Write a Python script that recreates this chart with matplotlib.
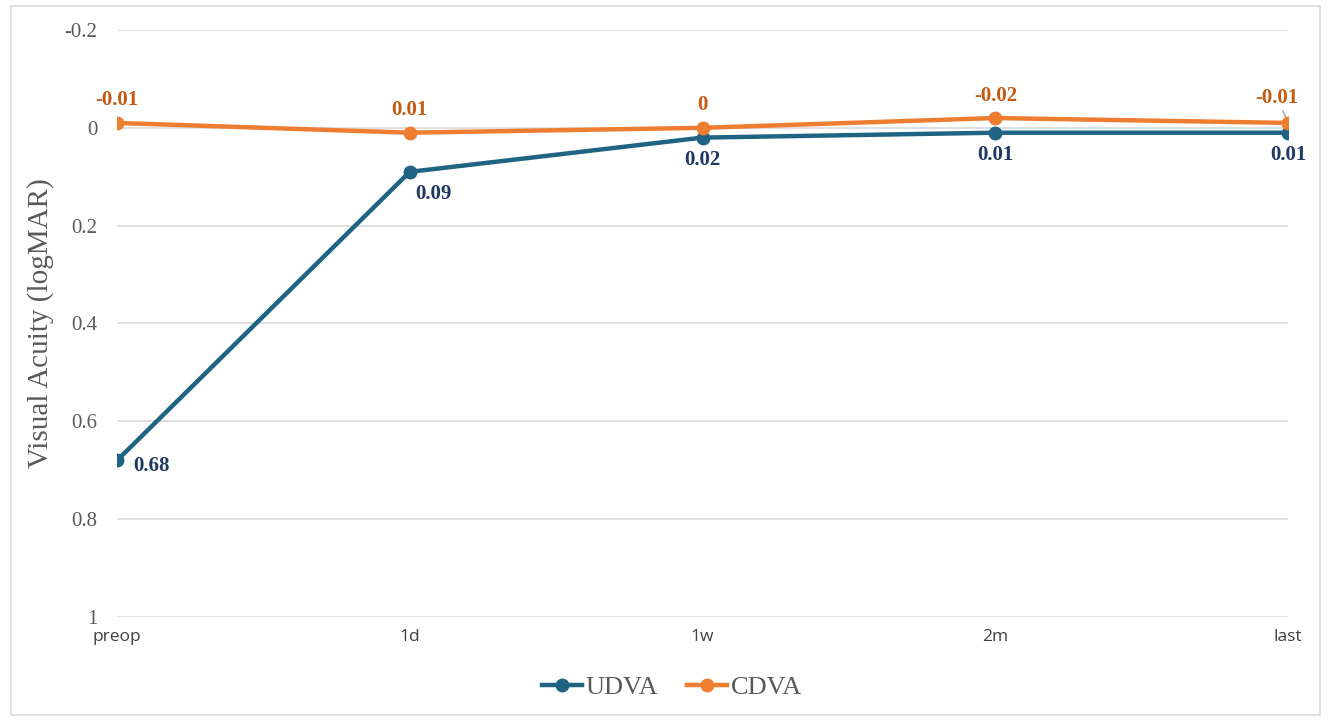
import matplotlib.pyplot as plt
from matplotlib.patches import Rectangle

timepoints = ["preop", "1d", "1w", "2m", "last"]
udva = [0.68, 0.09, 0.02, 0.01, 0.01]
cdva = [-0.01, 0.01, 0, -0.02, -0.01]
udva_labels = ["0.68", "0.09", "0.02", "0.01", "0.01"]
cdva_labels = ["-0.01", "0.01", "0", "-0.02", "-0.01"]
yticks = [-0.2, 0, 0.2, 0.4, 0.6, 0.8, 1]
ytick_labels = ["-0.2", "0", "0.2", "0.4", "0.6", "0.8", "1"]

blue = "#1F6482"
orange = "#ED7D31"
serif = "Liberation Serif"

fig = plt.figure(figsize=(13.33, 7.19), dpi=100)
ax = fig.add_axes([0.0878, 0.1419, 0.8785, 0.8164])

x = list(range(len(timepoints)))
ax.plot(x, udva, color=blue, lw=3.2, marker="o", ms=9, label="UDVA", zorder=3)
ax.plot(x, cdva, color=orange, lw=3.2, marker="o", ms=9, label="CDVA", zorder=4)

# data labels (UDVA: first two to the right, rest below; CDVA above)
udva_offsets = [(12, -4), (4, -16)]
for i, (v, t) in enumerate(zip(udva, udva_labels)):
    if i < 2:
        ax.annotate(t, (i, v), xytext=udva_offsets[i], textcoords="offset points",
                    ha="left", va="center", fontsize=15, fontweight="bold",
                    family=serif, color="#1F3864")
    else:
        ax.annotate(t, (i, v), xytext=(0, -9), textcoords="offset points",
                    ha="center", va="top", fontsize=15, fontweight="bold",
                    family=serif, color="#1F3864")
for i, (v, t) in enumerate(zip(cdva, cdva_labels)):
    if i == len(cdva) - 1:
        ax.annotate(t, (i, v), xytext=(-8, 11), textcoords="offset points",
                    ha="center", va="bottom", fontsize=15, fontweight="bold",
                    family=serif, color="#C55A11",
                    arrowprops=dict(arrowstyle="-", color="#A6A6A6", lw=1,
                                    shrinkA=0, shrinkB=3))
    else:
        ax.annotate(t, (i, v), xytext=(0, 9), textcoords="offset points",
                    ha="center", va="bottom", fontsize=15, fontweight="bold",
                    family=serif, color="#C55A11")

ax.set_xlim(0, len(timepoints) - 1)
ax.set_ylim(1, -0.2)
ax.set_yticks(yticks)
ax.set_yticklabels(ytick_labels, family=serif, fontsize=15, color="#595959")
ax.set_xticks(x)
ax.set_xticklabels(timepoints, family="Open Sans", fontsize=12.5, color="#404040")
ax.tick_params(length=0)
ax.tick_params(axis="y", pad=14)
ax.tick_params(axis="x", pad=9)
ax.grid(axis="y", color="#D9D9D9", lw=1.2)
ax.set_axisbelow(True)
for s in ax.spines.values():
    s.set_visible(False)
ax.set_ylabel("Visual Acuity (logMAR)", family=serif, fontsize=21, color="#595959", labelpad=8)

leg = ax.legend(loc="center", bbox_to_anchor=(0.474, -0.12), ncol=2, frameon=False,
                prop={"family": serif, "size": 19}, handlelength=1.5,
                columnspacing=1.1, handletextpad=0.15)
for t in leg.get_texts():
    t.set_color("#595959")

fig.patches.append(Rectangle((0.008, 0.006), 0.982, 0.986, transform=fig.transFigure,
                             fill=False, edgecolor="#D9D9D9", lw=1.2))

fig.savefig("out.png", dpi=100)
